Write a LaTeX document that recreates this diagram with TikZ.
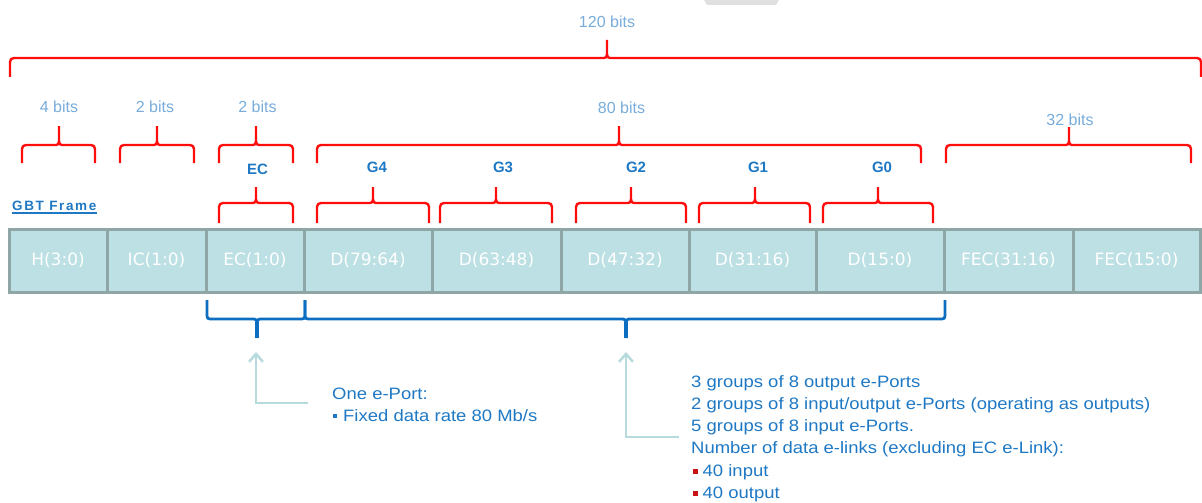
\documentclass[tikz,border=0pt]{standalone}
\usepackage{fontspec}
\setmainfont{Liberation Sans}
\newfontfamily\cellfont{DejaVu Sans}
\newfontfamily\descfont[FakeStretch=1.12]{Liberation Sans}
\newfontfamily\gbtfont[LetterSpace=12]{Liberation Sans}
\usetikzlibrary{arrows.meta}
\definecolor{brred}{RGB}{255,12,12}
\definecolor{brblue}{RGB}{12,110,192}
\definecolor{txtblue}{RGB}{30,120,196}
\definecolor{bitsblue}{RGB}{120,172,218}
\definecolor{cellfill}{RGB}{188,224,227}
\definecolor{cellline}{RGB}{143,166,166}
\definecolor{arrowc}{RGB}{183,219,221}
\definecolor{ghost}{RGB}{224,224,224}
\definecolor{bulred}{RGB}{200,20,20}
% brace with legs down and tip up: x1, x2, xtip, yline, yleg, ytip
\newcommand\bracedn[6]{%
  \draw[redbrace] (#1,#5) -- (#1,#4+4) .. controls (#1,#4+1.5) and (#1+1.5,#4) .. (#1+4,#4)
    -- (#3-3,#4) .. controls (#3-1,#4) and (#3,#4-1) .. (#3,#4-4) -- (#3,#6)
    (#3,#4-4) .. controls (#3,#4-1) and (#3+1,#4) .. (#3+3,#4)
    -- (#2-4,#4) .. controls (#2-1.5,#4) and (#2,#4+1.5) .. (#2,#4+4) -- (#2,#5);}
% brace with legs up and tip down
\newcommand\braceup[6]{%
  \draw[bluebrace] (#1,#5) -- (#1,#4-3) .. controls (#1,#4-1) and (#1+1,#4) .. (#1+3,#4)
    -- (#3-3,#4) .. controls (#3-1,#4) and (#3,#4+1) .. (#3,#4+4) -- (#3,#6)
    (#3,#4+4) .. controls (#3,#4+1) and (#3+1,#4) .. (#3+3,#4)
    -- (#2-3,#4) .. controls (#2-1,#4) and (#2,#4-1) .. (#2,#4-3) -- (#2,#5);
  \draw[bluebrace,line width=3.6pt,line cap=butt] (#3,#4+3) -- (#3,#6);}
\begin{document}
\begin{tikzpicture}[x=1pt,y=-1pt,
  redbrace/.style={draw=brred,line width=2.4pt,line join=round},
  bluebrace/.style={draw=brblue,line width=2.8pt,line join=round},
  cell/.style={draw=cellline,line width=3pt,fill=cellfill,minimum height=63pt,inner sep=0pt,
    text=white,font=\cellfont\fontsize{17}{17}\selectfont},
  bits/.style={text=bitsblue,font=\fontsize{16}{16}\selectfont,anchor=base,inner sep=0pt},
  glabel/.style={text=txtblue,font=\bfseries\fontsize{15}{15}\selectfont,anchor=base,inner sep=0pt},
  desc/.style={text=txtblue,font=\descfont\fontsize{16.5}{16.5}\selectfont,anchor=base west,inner sep=0pt},
  callout/.style={draw=arrowc,line width=2.5pt,-{Straight Barb[length=8pt,width=14pt]}}]
\useasboundingbox (0,0) rectangle (1202,503);
\fill[ghost] (704,0) -- (779,0) -- (776,5) -- (707,5) -- cycle;

% cells
\node[cell,minimum width=98pt]  (h)   at (58,260.5)   {H(3:0)};
\node[cell,minimum width=99pt]  (ic)  at (156.5,260.5) {IC(1:0)};
\node[cell,minimum width=98pt]  (ec)  at (255,260.5)  {EC(1:0)};
\node[cell,minimum width=128pt] (d79) at (368,260.5)  {D(79:64)};
\node[cell,minimum width=129pt] (d63) at (496.5,260.5) {D(63:48)};
\node[cell,minimum width=128pt] (d47) at (625,260.5)  {D(47:32)};
\node[cell,minimum width=127pt] (d31) at (752.5,260.5) {D(31:16)};
\node[cell,minimum width=128pt] (d15) at (880,260.5)  {D(15:0)};
\node[cell,minimum width=129pt] (f31) at (1008.5,260.5) {FEC(31:16)};
\node[cell,minimum width=127pt] (f15) at (1136.5,260.5) {FEC(15:0)};

% GBT Frame label
\node[text=txtblue,font=\gbtfont\bfseries\fontsize{13.5}{13.5}\selectfont,anchor=base west,inner sep=0pt] (gbt) at (12,210.5) {GBT Frame};
\draw[txtblue,line width=1.4pt] (gbt.base west) ++(0,2.6) -- ([yshift=-2.6pt]gbt.base east);

% top level brace
\bracedn{10}{1201}{607}{58}{77}{40}
\node[bits] (b120) at (607,28) {120 bits};

% second level braces
\bracedn{22}{95}{59}{145}{163}{126}
\bracedn{120}{194}{157}{145}{163}{126}
\bracedn{219}{293}{256}{145}{163}{126}
\bracedn{317}{921}{619}{145}{163}{126}
\bracedn{946}{1191}{1069}{145}{163}{127}
\node[bits] (b4)  at (59,112)   {4 bits};
\node[bits] (b2a) at (155,112)  {2 bits};
\node[bits] (b2b) at (257.5,112) {2 bits};
\node[bits] (b80) at (621.5,113) {80 bits};
\node[bits] (b32) at (1070,125) {32 bits};

% third level braces
\bracedn{219}{293}{256}{203}{223}{187}
\bracedn{317}{429}{373}{203}{223}{187}
\bracedn{440}{552}{496}{203}{223}{187}
\bracedn{576}{686}{631}{203}{223}{187}
\bracedn{699}{810}{755}{203}{223}{187}
\bracedn{823}{933}{878}{203}{223}{187}
\node[glabel] (lec) at (257.5,174) {EC};
\node[glabel] (lg4) at (377,172) {G4};
\node[glabel] (lg3) at (503,172) {G3};
\node[glabel] (lg2) at (636,172) {G2};
\node[glabel] (lg1) at (758,172) {G1};
\node[glabel] (lg0) at (882,172) {G0};

% lower blue braces
\braceup{207}{305}{257}{319}{300}{338}
\braceup{305}{945}{626}{319}{300}{338}

% callouts
\coordinate (a1s) at (308,403);
\coordinate (a1c) at (256,403);
\coordinate (a1e) at (256,352);
\draw[callout] (a1s) -- (a1c) -- (a1e);
\coordinate (a2s) at (679,437);
\coordinate (a2c) at (626,437);
\coordinate (a2e) at (626,352);
\draw[callout] (a2s) -- (a2c) -- (a2e);

% description 1
\node[desc] (e1) at (332,399) {One e-Port:};
\node[desc] (e2) at (333,421) {\raisebox{2.6pt}{\rule{4pt}{4pt}}\hspace{6pt}Fixed data rate 80 Mb/s};

% description 2
\node[desc] (t1) at (691,387) {3 groups of 8 output e-Ports};
\node[desc] (t2) at (691,409) {2 groups of 8 input/output e-Ports (operating as outputs)};
\node[desc] (t3) at (691,431) {5 groups of 8 input e-Ports.};
\node[desc] (t4) at (691,453.5) {Number of data e-links (excluding EC e-Link):};
\node[desc] (t5) at (692.5,476) {\textcolor{bulred}{\raisebox{2.5pt}{\rule{5pt}{5pt}}}\hspace{5pt}40 input};
\node[desc] (t6) at (692.5,498.5) {\textcolor{bulred}{\raisebox{2.5pt}{\rule{5pt}{5pt}}}\hspace{5pt}40 output};
\end{tikzpicture}
\end{document}
